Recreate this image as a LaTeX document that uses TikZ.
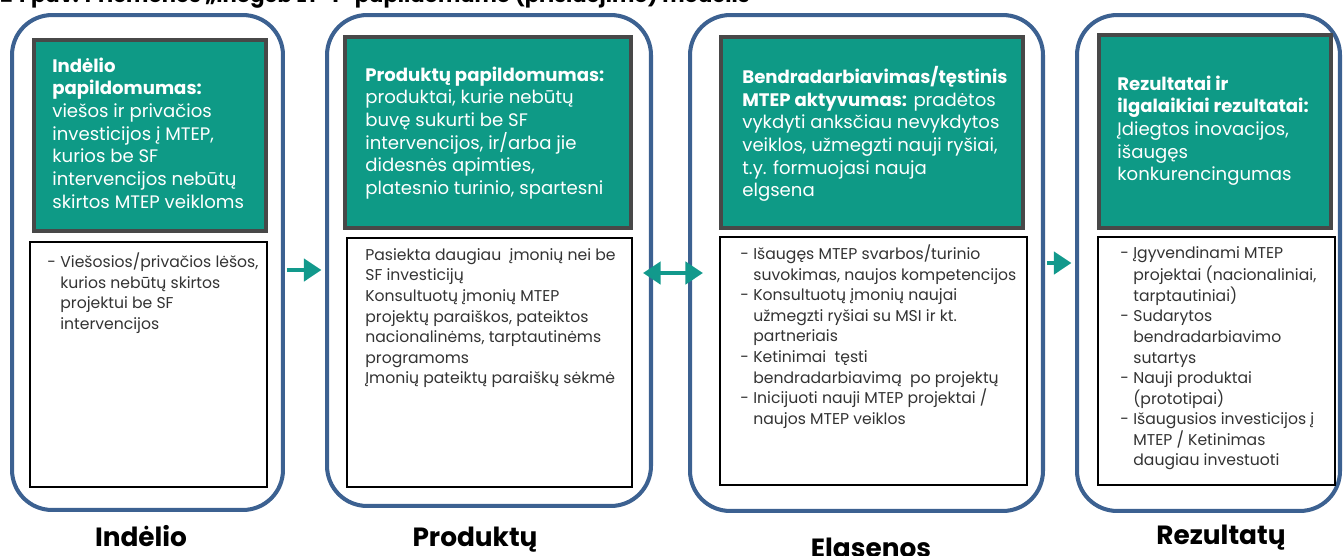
\documentclass[tikz,border=0pt]{standalone}
\usepackage{fontspec}
\setmainfont{Poppins}
\usetikzlibrary{arrows.meta}
\definecolor{tealfill}{RGB}{14,154,134}
\definecolor{greyframe}{RGB}{72,72,72}
\definecolor{phaseblue}{RGB}{60,97,145}
\definecolor{arrowteal}{RGB}{18,153,140}
\newcommand{\bl}{\makebox[7.4pt][l]{-}}
\newcommand{\ind}{\hspace*{7.4pt}}

\begin{document}
\begin{tikzpicture}[x=0.02cm,y=-0.02cm,
  phasebox/.style={draw=phaseblue,line width=2.3pt,rounded corners=0.8cm,inner sep=0pt},
  greenbox/.style={draw=greyframe,fill=tealfill,line width=2.3pt,inner sep=0pt},
  whitebox/.style={draw=black,line width=0.7pt,fill=white,inner sep=0pt},
  gtext/.style={anchor=north west,inner sep=0pt,align=left,text=white,font=\fontsize{10.3}{12.9}\selectfont},
  wtext/.style={anchor=north west,inner sep=0pt,align=left,text=black!80,font=\fontsize{8.9}{11.7}\selectfont},
  phasename/.style={anchor=base,font=\bfseries\fontsize{15}{18}\selectfont},
  conn/.style={draw=arrowteal,line width=2.5pt,-{Triangle[width=12.5pt,length=10pt]}}
]
\useasboundingbox (0,0) rectangle (1344,555);

% title (cut off at the top)
\node[anchor=base west,inner sep=0pt,font=\bfseries\fontsize{12}{14}\selectfont] (title) at (0,2.5)
  {24 pav. Priemonės „Inogeb LT-1“ papildomumo (prisidėjimo) modelis};

% outer frames
\node[phasebox,minimum width=5.42cm,minimum height=9.9cm] (ph1) at (147.5,262.5) {};
\node[phasebox,minimum width=6.48cm,minimum height=9.82cm] (ph2) at (489,260.5) {};
\node[phasebox,minimum width=7.06cm,minimum height=9.92cm] (ph3) at (866.5,263) {};
\node[phasebox,minimum width=5.26cm,minimum height=9.92cm] (ph4) at (1208.5,263) {};

% green boxes
\node[greenbox,minimum width=4.64cm,minimum height=3.82cm] (g1) at (150,135.5) {};
\node[greenbox,minimum width=5.72cm,minimum height=3.82cm] (g2) at (488,132.5) {};
\node[greenbox,minimum width=6.04cm,minimum height=3.82cm] (g3) at (872,132.5) {};
\node[greenbox,minimum width=4.64cm,minimum height=3.86cm] (g4) at (1215,131.5) {};

% white boxes
\node[whitebox,minimum width=4.74cm,minimum height=4.9cm] (w1) at (148.5,364.5) {};
\node[whitebox,minimum width=5.7cm,minimum height=4.98cm] (w2) at (489.5,362.5) {};
\node[whitebox,minimum width=6.14cm,minimum height=4.96cm] (w3) at (873.5,361) {};
\node[whitebox,minimum width=4.74cm,minimum height=4.96cm] (w4) at (1216.5,361) {};

% texts in the green boxes
\node[gtext] (g1txt) at (52,56) {\strut\textbf{Indėlio}\\\textbf{papildomumas:}\\viešos ir privačios\\investicijos į MTEP,\\kurios be SF\\intervencijos nebūtų\\skirtos MTEP veikloms};
\node[gtext] (g2txt) at (365,65) {\strut\textbf{Produktų papildomumas:}\\produktai, kurie nebūtų\\buvę sukurti be SF\\intervencijos, ir/arba jie\\didesnės apimties,\\platesnio turinio, spartesni};
\node[gtext] (g3txt) at (742,66) {\strut\textbf{Bendradarbiavimas/tęstinis}\\\textbf{MTEP aktyvumas:} pradėtos\\vykdyti anksčiau nevykdytos\\veiklos, užmegzti nauji ryšiai,\\t.y. formuojasi nauja\\elgsena};
\node[gtext] (g4txt) at (1117,74) {\strut\textbf{Rezultatai ir}\\\textbf{ilgalaikiai rezultatai:}\\Įdiegtos inovacijos,\\išaugęs\\konkurencingumas};

% texts in the white boxes
\node[wtext] (w1txt) at (47,252.6) {\strut\bl Viešosios/privačios lėšos,\\\ind kurios nebūtų skirtos\\\ind projektui be SF\\\ind intervencijos};
\node[wtext] (w2txt) at (365,245.6) {\strut Pasiekta daugiau\ \ įmonių nei be\\SF investicijų\\Konsultuotų įmonių MTEP\\projektų paraiškos, pateiktos\\nacionalinėms, tarptautinėms\\programoms\\Įmonių pateiktų paraiškų sėkmė};
\node[wtext] (w3txt) at (740,244.6) {\strut\bl Išaugęs MTEP svarbos/turinio\\\ind suvokimas, naujos kompetencijos\\\bl Konsultuotų įmonių naujai\\\ind užmegzti ryšiai su MSI ir kt.\\\ind partneriais\\\bl Ketinimai\ \ tęsti\\\ind bendradarbiavimą\ \ po projektų\\\bl Inicijuoti nauji MTEP projektai /\\\ind naujos MTEP veiklos};
\node[wtext] (w4txt) at (1120,243.6) {\strut\bl Įgyvendinami MTEP\\\ind projektai (nacionaliniai,\\\ind tarptautiniai)\\\bl Sudarytos\\\ind bendradarbiavimo\\\ind sutartys\\\bl Nauji produktai\\\ind (prototipai)\\\bl Išaugusios investicijos į\\\ind MTEP / Ketinimas\\\ind daugiau investuoti};

% names under the frames
\node[phasename] (n1) at (141,546) {Indėlio};
\node[phasename] (n2) at (475,546) {Produktų};
\node[phasename] (n3) at (871,557) {Elgsenos};
\node[phasename] (n4) at (1221,544) {Rezultatų};

% connectors
\draw[conn] ([xshift=1pt]ph1.east |- 0,270) -- ([xshift=-2pt]ph2.west |- 0,270);
\draw[conn,{Triangle[width=12.5pt,length=10pt]}-{Triangle[width=12.5pt,length=10pt]}] ([xshift=-0.2cm]ph2.east |- 0,273) -- ([xshift=0.3cm]ph3.west |- 0,273);
\draw[conn] ([xshift=1pt]ph3.east |- 0,263) -- ([xshift=-2pt]ph4.west |- 0,263);
\end{tikzpicture}
\end{document}
